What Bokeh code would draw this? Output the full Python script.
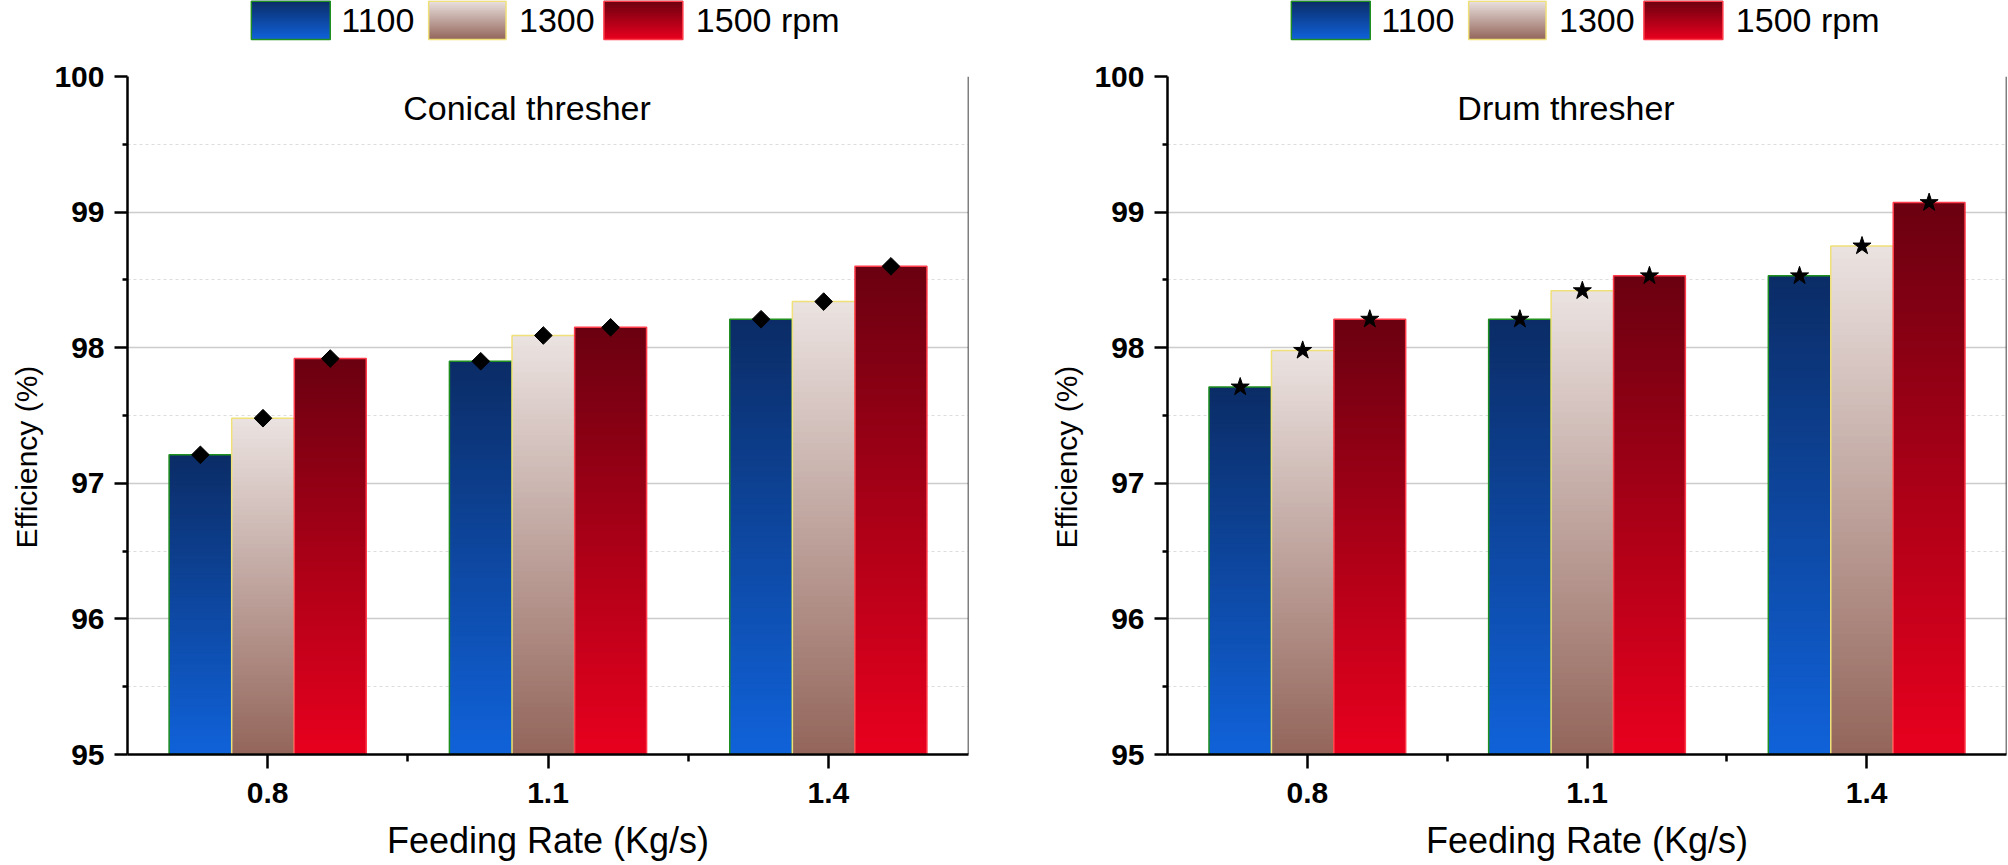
import math
from bokeh.plotting import figure
from bokeh.models import Range1d, FixedTicker, Label, Span, Title
from bokeh.layouts import row, column
from bokeh.embed import file_html
from bokeh.resources import INLINE
from bokeh.core.properties import value

# ---------------- data ----------------
feed_rate = [0.8, 1.1, 1.4]
speed_labels = ["1100", "1300", "1500 rpm"]
conical_1100 = [97.21, 97.90, 98.21]
conical_1300 = [97.48, 98.09, 98.34]
conical_1500 = [97.92, 98.15, 98.60]
drum_1100 = [97.71, 98.21, 98.53]
drum_1300 = [97.98, 98.42, 98.75]
drum_1500 = [98.21, 98.53, 99.07]
x_ticks = [0.8, 1.1, 1.4]
x_minor = [0.95, 1.25]
y_ticks = [95, 96, 97, 98, 99, 100]
y_minor = [95.5, 96.5, 97.5, 98.5, 99.5]
grid_ticks = [96, 97, 98, 99]
panel_titles = ["Conical thresher", "Drum thresher"]
x_title = "Feeding Rate (Kg/s)"
y_title = "Efficiency (%)"

# ---------------- style ----------------
FONT = "Liberation Sans"
X_START, X_END = 0.65, 1.55
Y_START, Y_END = 95.0, 100.0
BASE = 95.0
OFFSETS = [-0.072, -0.005, 0.067]
WIDTHS = [0.067, 0.067, 0.077]
TOP_COLORS = [(11, 44, 102), (235, 227, 225), (106, 0, 16)]
BOT_COLORS = [(16, 98, 218), (147, 101, 90), (232, 0, 30)]
EDGE_COLORS = ["#1f8f1f", "#f0e07a", "#ff3b4a"]
NSTRIP = 80

LEFT_B = 126
TOP_B = 28
BOT_B = 111
FIG_H = 817
LEG_H = 48


def grad(c_top, c_bot, t):
    # t = 0 at bottom, 1 at top
    return "#%02x%02x%02x" % tuple(int(round(b + (a - b) * t)) for a, b in zip(c_top, c_bot))


def add_bars(p, series, marker, msize, angle):
    for i, vals in enumerate(series):
        xs = [f + OFFSETS[i] for f in feed_rate]
        L, R, B, T, C = [], [], [], [], []
        for x, v in zip(xs, vals):
            step = (v - BASE) / NSTRIP
            for k in range(NSTRIP):
                L.append(x - WIDTHS[i] / 2)
                R.append(x + WIDTHS[i] / 2)
                B.append(BASE + step * k)
                T.append(min(BASE + step * (k + 1.6), v))
                C.append(grad(TOP_COLORS[i], BOT_COLORS[i], (k + 0.5) / NSTRIP))
        p.quad(left=L, right=R, bottom=B, top=T, fill_color=C, line_color=None)
        p.vbar(x=xs, width=WIDTHS[i], bottom=BASE, top=vals, fill_color=None,
               line_color=EDGE_COLORS[i], line_width=1.5)
    for i, vals in enumerate(series):
        xs = [f + OFFSETS[i] for f in feed_rate]
        p.scatter(x=xs, y=vals, marker=marker, size=msize, angle=angle,
                  fill_color="black", line_color="black")


def make_panel(title, series, marker, msize, angle, width, right_b):
    p = figure(width=width, height=FIG_H, x_range=Range1d(X_START, X_END),
               y_range=Range1d(Y_START, Y_END),
               output_backend="svg", toolbar_location=None,
               min_border_left=LEFT_B, min_border_right=right_b,
               min_border_top=TOP_B, min_border_bottom=BOT_B)
    p.outline_line_color = None
    p.background_fill_color = "white"
    p.border_fill_color = "white"

    p.xaxis.ticker = FixedTicker(ticks=x_ticks, minor_ticks=x_minor)
    p.yaxis.ticker = FixedTicker(ticks=y_ticks, minor_ticks=y_minor)
    for ax in (p.xaxis[0], p.yaxis[0]):
        ax.axis_line_width = 2.5
        ax.axis_line_color = "black"
        ax.major_tick_line_width = 2.5
        ax.minor_tick_line_width = 2.5
        ax.major_tick_line_color = "black"
        ax.minor_tick_line_color = "black"
        ax.major_tick_in = 0
        ax.minor_tick_in = 0
        ax.major_label_text_font = FONT
        ax.major_label_text_font_style = "bold"
        ax.major_label_text_font_size = "30px"
        ax.major_label_text_color = "black"
    p.yaxis.major_tick_out = 13
    p.yaxis.minor_tick_out = 5
    p.yaxis.major_label_standoff = 10
    p.xaxis.major_tick_out = 14
    p.xaxis.minor_tick_out = 7
    p.xaxis.major_label_standoff = 14
    p.xaxis.axis_label = x_title
    p.xaxis.axis_label_text_font = FONT
    p.xaxis.axis_label_text_font_style = "normal"
    p.xaxis.axis_label_text_font_size = "36px"
    p.xaxis.axis_label_text_color = "black"
    p.xaxis.axis_label_standoff = 14

    # y title (placed along the left side, shifted like the original)
    p.add_layout(Title(text=y_title, align="left", offset=206, vertical_align="middle",
                       text_font=FONT, text_font_style="normal", text_font_size="30px",
                       text_color="black", standoff=16), "left")

    # right frame line (no top line in the original)
    p.add_layout(Span(location=X_END, dimension="height", line_color="black", line_width=1.5))

    p.xgrid.visible = False
    p.ygrid.ticker = FixedTicker(ticks=grid_ticks, minor_ticks=y_minor)
    p.ygrid.grid_line_color = "#cccccc"
    p.ygrid.grid_line_width = 1.5
    p.ygrid.minor_grid_line_color = "#dddddd"
    p.ygrid.minor_grid_line_width = 1.2
    p.ygrid.minor_grid_line_dash = "3 3"

    add_bars(p, series, marker, msize, angle)

    p.add_layout(Label(x=(X_START + X_END) / 2, y=99.77, x_offset=-21, text=title,
                       text_align="center", text_baseline="middle", text_font=FONT,
                       text_font_size="34px", text_color="black"))
    return p


def make_legend(width, frame_w):
    lf = figure(width=width, height=LEG_H, x_range=Range1d(0, frame_w), y_range=Range1d(LEG_H, 0),
                output_backend="svg", toolbar_location=None, min_border=0,
                x_axis_type=None, y_axis_type=None)
    lf.outline_line_color = None
    lf.grid.visible = False
    # positions relative to the plot frame's left edge, in pixels
    box_x = [124, 301.5, 477]
    box_w = [79, 77.5, 79]
    text_x = [214, 392, 569]
    y0, y1 = 0, 39
    n = 39
    for i, lab in enumerate(speed_labels):
        L, R, B, T, C = [], [], [], [], []
        for k in range(n):
            L.append(box_x[i])
            R.append(box_x[i] + box_w[i])
            T.append(y0 + (y1 - y0) * k / n)
            B.append(min(y0 + (y1 - y0) * (k + 1.6) / n, y1))
            C.append(grad(TOP_COLORS[i], BOT_COLORS[i], 1 - (k + 0.5) / n))
        lf.quad(left=L, right=R, bottom=B, top=T, fill_color=C, line_color=None)
        lf.quad(left=[box_x[i]], right=[box_x[i] + box_w[i]], top=[y0 + 0.8],
                bottom=[y1], fill_color=None, line_color=EDGE_COLORS[i], line_width=1.5)
        lf.text(x=[text_x[i]], y=[19.5], text=[lab], text_font=value(FONT),
                text_font_size="34px", text_baseline="middle", text_align="left",
                text_color="black")
    return lf


W_LEFT = 1040
W_RIGHT = 968
pL = make_panel(panel_titles[0], [conical_1100, conical_1300, conical_1500], "square", 12.5,
                math.pi / 4, W_LEFT, 72)
pR = make_panel(panel_titles[1], [drum_1100, drum_1300, drum_1500], "star", 19, 0.0,
                W_RIGHT, 2)
legL = make_legend(W_LEFT, W_LEFT - LEFT_B - 72)
legR = make_legend(W_RIGHT, W_RIGHT - LEFT_B - 2)

layout = row(column(legL, pL), column(legR, pR))
open("out.html", "w").write(file_html(layout, INLINE))
